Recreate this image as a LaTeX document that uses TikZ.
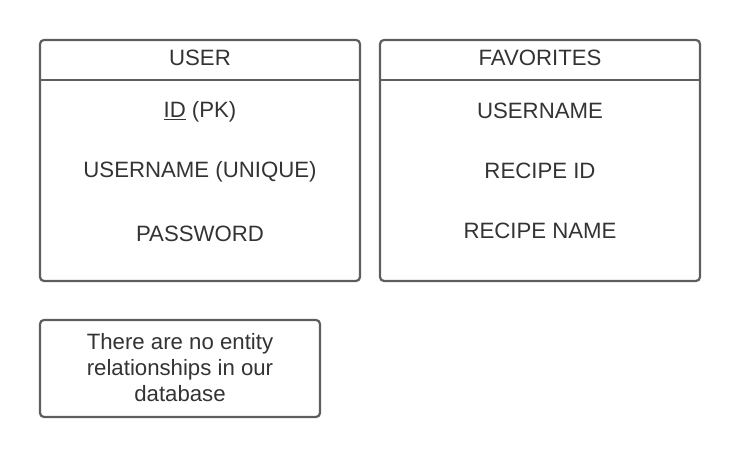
\documentclass[tikz,border=0pt]{standalone}
\usepackage{fontspec}
\setmainfont{Liberation Sans}
\usetikzlibrary{calc}
\definecolor{boxline}{HTML}{5E5E5E}
\definecolor{boxtext}{HTML}{333333}
\newcommand{\erfont}{\fontsize{22.2}{26}\selectfont}

\begin{document}
\begin{tikzpicture}[x=1pt,y=1pt,
    entity/.style={draw=boxline,line width=2.2pt,rounded corners=4pt,minimum width=320pt,minimum height=241pt,inner sep=0pt},
    notebox/.style={draw=boxline,line width=2.2pt,rounded corners=4pt,minimum width=280pt,minimum height=97pt,inner sep=0pt},
    field/.style={text=boxtext,font=\erfont,inner sep=0pt,anchor=center}]
  \useasboundingbox (0,0) rectangle (740,458);
  % tables
  \node[entity](user) at (200,297.5) {};
  \node[entity](fav) at (540,297.5) {};
  \draw[boxline,line width=2.2pt] ($(user.north west)+(0,-41)$) -- ($(user.north east)+(0,-41)$);
  \draw[boxline,line width=2.2pt] ($(fav.north west)+(0,-41)$) -- ($(fav.north east)+(0,-41)$);
  % user fields
  \node[field](userT) at (200,400) {USER};
  \node[field](userId) at (200,346) {\underline{ID} (PK)};
  \node[field](userName) at (200,286) {USERNAME (UNIQUE)};
  \node[field](userPw) at (200,224) {PASSWORD};
  % favorites fields
  \node[field](favT) at (540,400) {FAVORITES};
  \node[field](favName) at (540,347) {USERNAME};
  \node[field](favRid) at (540,287) {RECIPE ID};
  \node[field](favRname) at (540,227) {RECIPE NAME};
  % note
  \node[notebox](note) at (180,89.5) {};
  \node[field,align=center](noteT) at (180,90) {There are no entity\\relationships in our\\database};
\end{tikzpicture}
\end{document}
